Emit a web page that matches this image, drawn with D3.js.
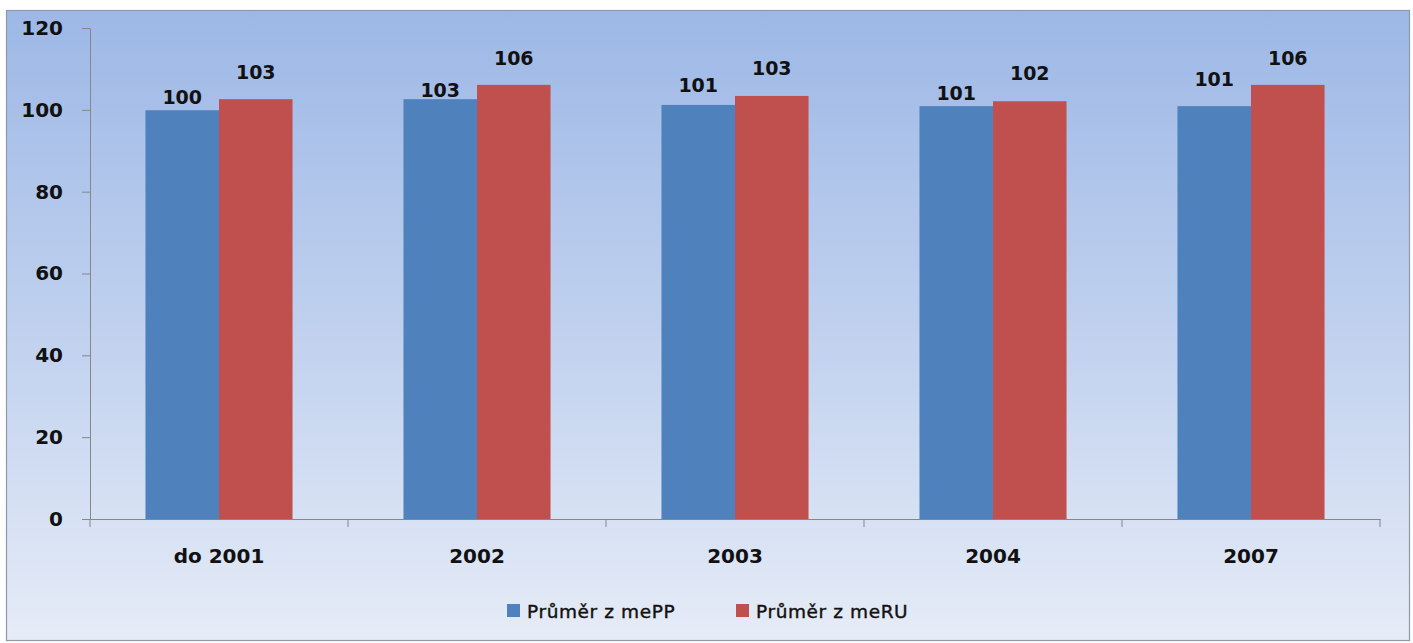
<!DOCTYPE html>
<html><head><meta charset="utf-8">
<script src="https://cdn.jsdelivr.net/npm/d3@7"></script>
<style>html,body{margin:0;padding:0;background:#fff;}svg{display:block;}</style>
</head><body>
<svg id="c" width="1413" height="643"></svg>
<script>
const categories = ["do 2001", "2002", "2003", "2004", "2007"];
const seriesNames = ["Průměr z mePP", "Průměr z meRU"];
const mePP = [99.9, 102.6, 101.2, 100.9, 100.9];
const meRU = [102.6, 106.1, 103.4, 102.1, 106.1];
const mePPLabels = ["100", "103", "101", "101", "101"];
const meRULabels = ["103", "106", "103", "102", "106"];
const yTicks = [0, 20, 40, 60, 80, 100, 120];
const colors = ["#4f81bd", "#c0504d"];
// extra lift of data labels above bar tops (Excel placement)
const labelLift = [[3, -1, 10, 3, 17], [17, 17, 18, 18, 17]];

const svg = d3.select("#c");
const defs = svg.append("defs");
const g = defs.append("linearGradient").attr("id","bg").attr("x1",0).attr("y1",0).attr("x2",0).attr("y2",1);
g.append("stop").attr("offset","0%").attr("stop-color","#9db8e6");
g.append("stop").attr("offset","55%").attr("stop-color","#c3d3ef");
g.append("stop").attr("offset","100%").attr("stop-color","#e6ecf7");

svg.append("rect").attr("x",6.5).attr("y",10.5).attr("width",1403).attr("height",630)
  .attr("fill","url(#bg)").attr("stroke","#8d99aa").attr("stroke-width",1.2);

const mLeft = 90, mRight = 1380, mTop = 28, mBottom = 519;
const x = d3.scaleBand().domain(categories).range([mLeft, mRight]).paddingInner(0.43).paddingOuter(0.215);
const xs = d3.scaleBand().domain([0,1]).range([0, x.bandwidth()]);
const y = d3.scaleLinear().domain([0,120]).range([mBottom, mTop]);

const font = "DejaVu Sans";
const series = [mePP, meRU];
const labels = [mePPLabels, meRULabels];

series.forEach((vals, si) => {
  svg.append("g").selectAll("rect").data(vals).join("rect")
    .attr("x", (d,i) => x(categories[i]) + xs(si))
    .attr("y", d => y(d))
    .attr("width", xs.bandwidth())
    .attr("height", d => y(0) - y(d))
    .attr("fill", colors[si]);
  svg.append("g").selectAll("text").data(vals).join("text")
    .attr("x", (d,i) => x(categories[i]) + xs(si) + xs.bandwidth()/2)
    .attr("y", (d,i) => y(d) - 3 - labelLift[si][i])
    .attr("text-anchor","middle")
    .attr("font-family", font).attr("font-weight","bold").attr("font-size", 19)
    .attr("fill","#111")
    .text((d,i) => labels[si][i]);
});

// y axis
const yAxis = svg.append("g").attr("transform", `translate(${mLeft},0)`)
  .call(d3.axisLeft(y).tickValues(yTicks).tickSize(8).tickPadding(19).tickSizeOuter(0));
yAxis.select(".domain").attr("stroke","#878787");
yAxis.selectAll(".tick line").attr("stroke","#878787");
yAxis.selectAll("text").attr("font-family",font).attr("font-weight","bold").attr("font-size",20).attr("fill","#111");

// x axis
const xAxis = svg.append("g").attr("transform", `translate(0,${mBottom})`)
  .call(d3.axisBottom(x).tickSize(0).tickPadding(30).tickSizeOuter(0));
xAxis.select(".domain").attr("stroke","#878787");
xAxis.selectAll("text").attr("font-family",font).attr("font-weight","bold").attr("font-size",20).attr("fill","#111");
const bounds = categories.map(c => x(c) - x.step()*x.paddingInner()/2).concat([mRight]);
svg.append("g").selectAll("line").data(bounds).join("line")
  .attr("x1", d=>d).attr("x2", d=>d).attr("y1", mBottom).attr("y2", mBottom+8)
  .attr("stroke","#878787");

// legend
const leg = svg.append("g");
const legX = [507, 736];
seriesNames.forEach((n, i) => {
  leg.append("rect").attr("x", legX[i]).attr("y", 604).attr("width", 13).attr("height", 13).attr("fill", colors[i]);
  leg.append("text").attr("x", legX[i] + 20).attr("y", 617.5)
    .attr("font-family", font).attr("font-size", 18.5).attr("letter-spacing", 0.6)
    .attr("stroke","#111").attr("stroke-width",0.4)
    .attr("fill","#111").text(n);
});
</script>
</body></html>
